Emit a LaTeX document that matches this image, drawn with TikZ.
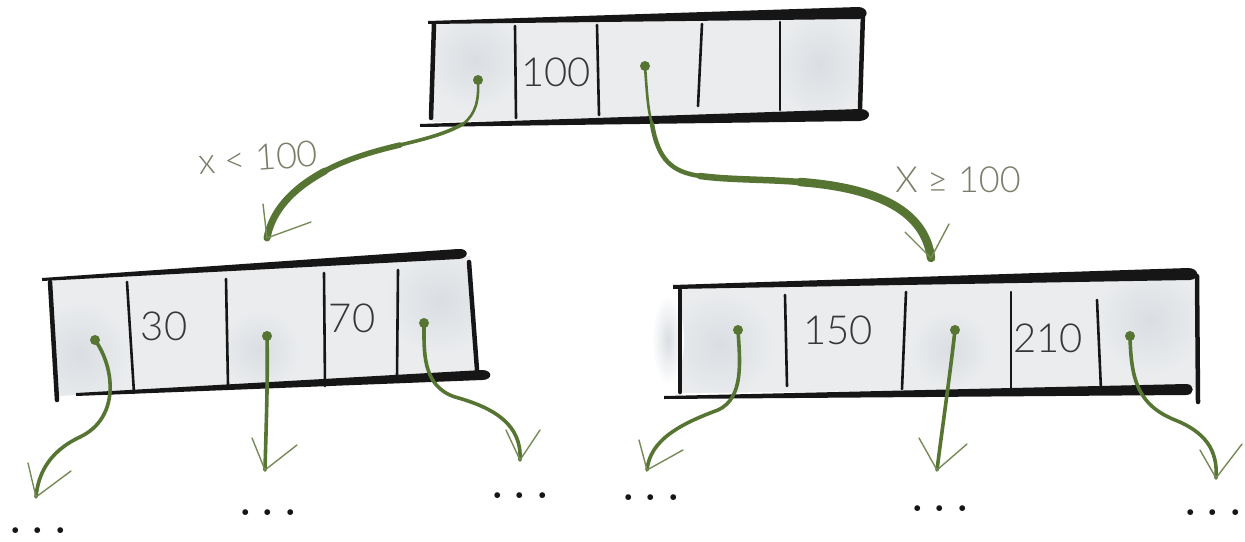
\documentclass[tikz,border=0pt]{standalone}
\usepackage{fontspec}
\newfontfamily\hand{Lato Light}
\definecolor{arrowgreen}{RGB}{86,116,50}
\definecolor{armgreen}{RGB}{118,138,88}
\definecolor{labelgray}{RGB}{120,126,104}
\definecolor{cellfill}{RGB}{234,236,238}
\definecolor{blot}{RGB}{218,222,226}
\definecolor{ink}{RGB}{22,22,22}
\definecolor{numink}{RGB}{55,55,55}
\begin{document}
\begin{tikzpicture}[x=1pt,y=-1pt,
  wall/.style={ink, line width=4.5pt, line cap=round},
  divider/.style={ink, line width=2.6pt, line cap=round},
  ptr/.style={circle, fill=arrowgreen, inner sep=0pt, minimum size=10pt},
  linkthin/.style={arrowgreen, line width=2.6pt, line cap=round},
  linkthick/.style={arrowgreen, line width=7pt, line cap=round},
  linkmid/.style={arrowgreen, line width=3.6pt, line cap=round},
  armline/.style={armgreen, line width=1.4pt, line cap=round, line join=round},
  num/.style={text=numink, font=\hand\fontsize{40}{40}\selectfont, inner sep=0pt},
  cond/.style={text=labelgray, font=\hand\fontsize{36}{36}\selectfont, inner sep=0pt},
  more/.style={text=ink, font=\bfseries\fontsize{40}{40}\selectfont, inner sep=0pt, anchor=base}
]
\useasboundingbox (0,0) rectangle (1245,541);
\fill[white] (0,0) rectangle (1245,541);

% ---------- top box ----------
\begin{scope}
  \clip (434,22) -- (862,12) -- (862,114) -- (432,122) -- cycle;
  \fill[cellfill] (420,0) rectangle (880,130);
  \shade[inner color=blot, outer color=cellfill] (475,60) ellipse (50 and 50);
  \shade[inner color=blot, outer color=cellfill] (820,65) ellipse (45 and 55);
\end{scope}
\fill[ink] (428,21) -- (858,7) .. controls (869,7) and (870,19) .. (858,19) -- (428,24) -- cycle;
\fill[ink] (420,124) -- (860,109) .. controls (872,109) and (872,120) .. (860,121) -- (420,127) -- cycle;
\draw[wall] (434,24) -- (431,118);
\draw[wall] (863,14) -- (860,108);
\draw[divider] (515,26) -- (516,118);
\draw[divider] (597,25) -- (599,115);
\draw[divider] (702,24) -- (698,106);
\draw[divider] (780,22) -- (780,110);
\node[num] (t100) at (556,72) {100};
\node[ptr] (a1) at (478,80) {};
\node[ptr] (a2) at (645,66) {};

% ---------- left box ----------
\begin{scope}
  \clip (50,280) -- (470,256) -- (474,372) -- (56,396) -- cycle;
  \fill[cellfill] (40,240) rectangle (490,410);
  \shade[inner color=blot, outer color=cellfill] (80,355) ellipse (50 and 55);
  \shade[inner color=blot, outer color=cellfill] (440,300) ellipse (55 and 55);
  \shade[inner color=blot, outer color=cellfill] (260,350) ellipse (40 and 40);
\end{scope}
\fill[ink] (42,278) -- (458,249) .. controls (469,248) and (470,258) .. (459,259) -- (42,281) -- cycle;
\fill[ink] (76,393) -- (482,370) .. controls (493,370) and (493,380) .. (482,380) -- (76,396) -- cycle;
\draw[wall] (50,282) -- (57,400);
\draw[wall] (469,262) -- (477,370);
\draw[divider] (127,282) -- (134,393);
\draw[divider] (226,279) -- (228,385);
\draw[divider] (324,273) -- (325,386);
\draw[divider] (398,270) -- (397,378);
\node[num] (t30) at (164,326) {30};
\node[num] (t70) at (352,318) {70};
\node[ptr] (b1) at (95,340) {};
\node[ptr] (b2) at (267,336) {};
\node[ptr] (b3) at (424,323) {};

% ---------- right box ----------
\begin{scope}
  \clip (680,288) -- (1194,274) -- (1196,388) -- (680,393) -- cycle;
  \fill[cellfill] (660,260) rectangle (1210,400);
  \shade[inner color=blot, outer color=cellfill] (720,345) ellipse (55 and 55);
  \shade[inner color=blot, outer color=cellfill] (1150,320) ellipse (55 and 55);
  \shade[inner color=blot, outer color=cellfill] (950,350) ellipse (40 and 40);
\end{scope}
\shade[inner color=blot, outer color=white] (668,340) ellipse (16 and 45);
\fill[ink] (673,285) -- (1188,268) .. controls (1199,268) and (1201,279) .. (1190,280) -- (673,289) -- cycle;
\fill[ink] (664,396) -- (1186,384) .. controls (1195,384) and (1195,395) .. (1186,395) -- (664,399) -- cycle;
\draw[wall] (680,290) -- (680,392);
\draw[wall] (1197,276) -- (1198,402);
\draw[divider] (785,295) -- (787,386);
\draw[divider] (906,292) -- (902,389);
\draw[divider] (1011,292) -- (1011,389);
\draw[divider] (1097,300) -- (1101,390);
\node[num] (t150) at (838,330) {150};
\node[num] (t210) at (1048,338) {210};
\node[ptr] (c1) at (738,330) {};
\node[ptr] (c2) at (955,330) {};
\node[ptr] (c3) at (1130,336) {};

% ---------- connector end points ----------
\coordinate (m1) at (463,124);
\coordinate (n1) at (400,145);
\coordinate (m2) at (652,124);
\coordinate (n2) at (700,176);
\coordinate (t1) at (267,238);
\coordinate (t2) at (931,258);
\coordinate (u1) at (36,497);
\coordinate (u2) at (265,470);
\coordinate (u3) at (520,460);
\coordinate (v1) at (647,470);
\coordinate (v2) at (937,470);
\coordinate (v3) at (1216,478);

% ---------- top connectors ----------
\draw[linkthin] (a1.center) .. controls (479,100) and (476,114) .. (m1);
\draw[linkthin, line width=3.6pt] (m1) .. controls (445,134) and (425,139) .. (n1);
\draw[linkthin, line width=5.5pt] (n1) .. controls (370,152) and (345,160) .. (325,171);
\draw[linkthick] (325,171) .. controls (290,190) and (272,212) .. (t1);
\draw[linkthin] (a2.center) .. controls (647,95) and (648,110) .. (m2);
\draw[linkthin, line width=4.5pt] (m2) .. controls (658,160) and (672,172) .. (n2);
\draw[linkthick, line width=6.5pt] (n2) .. controls (730,180) and (760,179) .. (800,182);
\draw[linkthick, line width=8.5pt] (800,182) .. controls (880,188) and (925,212) .. (t2);
\draw[armline] (t1) ++(-4,-34) -- (t1) -- ++(44,-16);
\draw[armline] (t2) ++(-26,-26) -- (t2) -- ++(18,-34);

% ---------- lower connectors ----------
\draw[linkmid] (b1.center) .. controls (115,368) and (120,418) .. (80,437) .. controls (48,452) and (38,475) .. (u1);
\draw[linkmid] (b2.center) .. controls (268,380) and (266,430) .. (u2);
\draw[linkmid] (b3.center) .. controls (424,352) and (422,386) .. (455,397) .. controls (495,408) and (522,425) .. (u3);
\draw[linkmid] (c1.center) .. controls (740,362) and (744,398) .. (718,410) .. controls (680,424) and (650,440) .. (v1);
\draw[linkmid] (c2.center) .. controls (950,375) and (942,430) .. (v2);
\draw[linkmid] (c3.center) .. controls (1131,380) and (1138,405) .. (1175,420) .. controls (1205,432) and (1218,450) .. (v3);
\draw[armline] (u1) ++(-8,-34) -- (u1) -- ++(35,-26);
\draw[armline] (u2) ++(-13,-32) -- (u2) -- ++(32,-25);
\draw[armline] (u3) ++(-14,-30) -- (u3) -- ++(20,-30);
\draw[armline] (v1) ++(-8,-30) -- (v1) -- ++(36,-20);
\draw[armline] (v2) ++(-18,-32) -- (v2) -- ++(30,-26);
\draw[armline] (v3) ++(-16,-28) -- (v3) -- ++(26,-34);

% ---------- labels ----------
\node[cond, rotate=4] (lt) at (258,158) {x < 100};
\node[cond] (ge) at (958,180) {X ≥ 100};

% ---------- ellipses ----------
\node[more] (e1) at (38,533) {.\hspace{10pt}.\hspace{10pt}.};
\node[more] (e2) at (268,515) {.\hspace{10pt}.\hspace{10pt}.};
\node[more] (e3) at (520,498) {.\hspace{10pt}.\hspace{10pt}.};
\node[more] (e4) at (651,500) {.\hspace{10pt}.\hspace{10pt}.};
\node[more] (e5) at (940,511) {.\hspace{10pt}.\hspace{10pt}.};
\node[more] (e6) at (1213,515) {.\hspace{10pt}.\hspace{10pt}.};
\end{tikzpicture}
\end{document}
